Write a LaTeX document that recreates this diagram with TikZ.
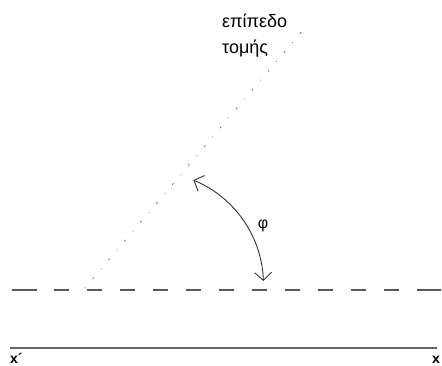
\documentclass[tikz,border=0pt]{standalone}
\usepackage{fontspec}
\setmainfont{Liberation Sans}
\usetikzlibrary{arrows.meta}
\begin{document}
\begin{tikzpicture}[x=1pt,y=-1pt,
  dashline/.style={draw=black!65,line width=1.4pt},
  axisline/.style={draw=black!60,line width=1.3pt},
  planeline/.style={draw=black!60,line width=0.7pt,dash pattern=on 0.7pt off 11pt on 2pt off 11pt},
  anglearrow/.style={draw=black!80,line width=0.9pt,{Straight Barb[length=8pt,width=17pt]}-{Straight Barb[length=8pt,width=17pt]}},
  greektext/.style={font=\fontsize{18}{22}\selectfont,inner sep=0pt,anchor=base west},
  axislabel/.style={font=\fontsize{14}{16}\selectfont\bfseries,inner sep=0pt,anchor=base west}]
\useasboundingbox (0,0) rectangle (442,365);
\fill[white] (0,0) rectangle (442,365);
% horizontal dashed trace
\coordinate (d1) at (12,290);
\coordinate (d2) at (37,290);
\coordinate (d3) at (54,290);
\coordinate (d4) at (399,290);
\coordinate (d5) at (417,290);
\coordinate (d6) at (441,290);
\draw[dashline] (d1) -- (d2);
\draw[dashline,dash pattern=on 15pt off 18pt] (d3) -- (d4);
\draw[dashline] (d5) -- (d6);
% axis x'x
\coordinate (xl) at (10,348);
\coordinate (xr) at (437,348);
\draw[axisline] (xl) -- (xr);
\node[axislabel] (xp) at (10,363) {x´};
\node[axislabel] (xx) at (432,363) {x};
% cutting plane trace
\coordinate (p0) at (85,288);
\coordinate (p1) at (308,24);
\draw[planeline] (p0) -- (p1);
% angle arrow
\coordinate (a0) at (263.4,281);
\draw[anglearrow] (a0) arc[start angle=-2,end angle=-67.5,radius=113.5];
\node[font=\fontsize{16}{18}\selectfont,inner sep=0pt] (phi) at (263,226) {φ};
% labels
\node[greektext] (t1) at (222,27) {επίπεδο};
\node[greektext] (t2) at (222,53) {τομής};
\end{tikzpicture}
\end{document}
